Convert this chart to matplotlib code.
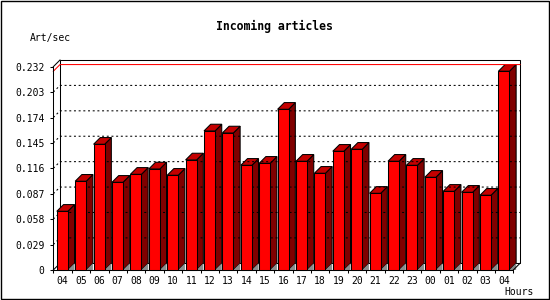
import numpy as np
import matplotlib
matplotlib.use("Agg")
from matplotlib import pyplot as plt
from matplotlib.patches import Polygon, Rectangle

# data
hours = ["04", "05", "06", "07", "08", "09", "10", "11", "12", "13", "14", "15",
         "16", "17", "18", "19", "20", "21", "22", "23", "00", "01", "02", "03", "04"]
art_per_sec = [0.0670, 0.1013, 0.1435, 0.1001, 0.1092, 0.1153, 0.1081, 0.1256,
               0.1587, 0.1564, 0.1195, 0.1218, 0.1834, 0.1241, 0.1104, 0.1355,
               0.1378, 0.0875, 0.1241, 0.1195, 0.1058, 0.0898, 0.0887, 0.0853,
               0.2268]
y_ticks = [0, 0.029, 0.058, 0.087, 0.116, 0.145, 0.174, 0.203, 0.232]
y_tick_labels = ["0", "0.029", "0.058", "0.087", "0.116", "0.145", "0.174", "0.203", "0.232"]

W, H = 550, 300
font = "DejaVu Sans Mono"

fig = plt.figure(figsize=(W / 100, H / 100), dpi=100)
ax = fig.add_axes([53.3 / W, 30 / H, 460 / W, 203.3 / H])

n = len(art_per_sec)
ymax = y_ticks[-1]
ax.set_xlim(0, n)
ax.set_ylim(0, ymax)

# 3d depth, in data units (about 6.7 px each way)
dx = 6.7 / (460 / n)
dy = 6.7 * ymax / 203.3
lw = 0.75

# back plane
ax.add_patch(Rectangle((dx, dy), n, ymax, fill=False, edgecolor="black", lw=lw, clip_on=False))
ax.plot([0, dx], [ymax, ymax + dy], color="black", lw=lw, clip_on=False)
ax.plot([0, dx], [0, dy], color="black", lw=lw, clip_on=False)
ax.plot([n, n + dx], [0, dy], color="black", lw=lw, clip_on=False)

# grid on the back plane
for v in y_ticks[1:-1]:
    ax.plot([0, dx, n + dx], [v, v + dy, v + dy], color="black", lw=lw,
            linestyle=(0, (1.9, 2.6)), clip_on=False)

# max line
vmax = max(art_per_sec)
ax.plot([0, dx, n + dx], [vmax, vmax + dy, vmax + dy], color="#ff0000", lw=lw, clip_on=False)

# bars
x = np.arange(n)
left = x + 0.19
width = 0.6
for i in range(n):
    xl = left[i]
    xr = xl + width
    v = art_per_sec[i]
    ax.add_patch(Polygon([(xr, 0), (xr + dx, dy), (xr + dx, v + dy), (xr, v)], closed=True,
                         facecolor="#800000", edgecolor="black", lw=lw, clip_on=False))
    ax.add_patch(Polygon([(xr, 0), (xr + dx, dy), (xr + dx, 0)], closed=True,
                         facecolor="#8c8c8c", edgecolor="none", clip_on=False))
    ax.add_patch(Polygon([(xl, v), (xl + dx, v + dy), (xr + dx, v + dy), (xr, v)], closed=True,
                         facecolor="#c40000", edgecolor="black", lw=lw, clip_on=False))
ax.bar(left, art_per_sec, width=width, align="edge", color="#ff0000",
       edgecolor="black", linewidth=lw, clip_on=False, zorder=3)

# axes
for s in ["top", "right"]:
    ax.spines[s].set_visible(False)
for s in ["left", "bottom"]:
    ax.spines[s].set_linewidth(lw)
ax.set_facecolor("none")

ax.set_yticks(y_ticks)
ax.set_yticklabels(y_tick_labels, fontfamily=font, fontsize=7)
ax.set_xticks(np.arange(n + 1))
ax.set_xticklabels([])
ax.set_xticks(x + 0.5, minor=True)
ax.set_xticklabels(hours, minor=True, fontfamily=font, fontsize=7)
ax.tick_params(axis="both", which="major", direction="out", length=2.2, width=lw, pad=4)
ax.tick_params(axis="x", which="minor", length=0, pad=4)

fig.text(274 / W, 1 - 26.7 / H, "Incoming articles", ha="center", va="center",
         fontfamily=font, fontsize=8.3, fontweight="bold")
fig.text(30 / W, 1 - 37.5 / H, "Art/sec", ha="left", va="center",
         fontfamily=font, fontsize=7)
fig.text(504 / W, 1 - 292 / H, "Hours", ha="left", va="center",
         fontfamily=font, fontsize=7)

# image border
fig.patches.append(Rectangle((0.5 / W, 1.5 / H), 548 / W, 298 / H, fill=False,
                             edgecolor="black", lw=1, transform=fig.transFigure, figure=fig))

fig.savefig("out.png", dpi=100, facecolor="white")
